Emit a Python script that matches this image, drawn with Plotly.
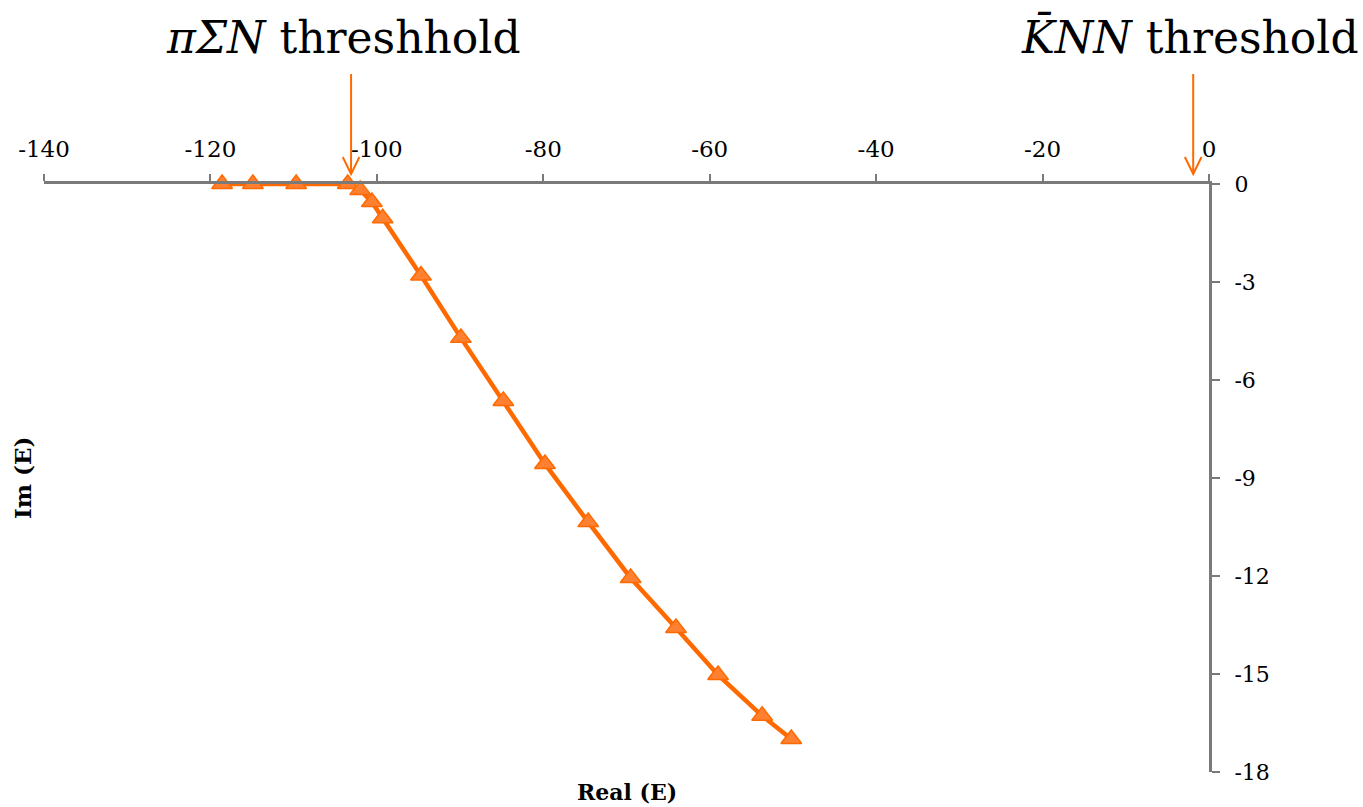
import plotly.graph_objects as go

real_e = [-118.6, -114.9, -109.7, -103.5, -102.0, -100.6, -99.3, -94.7, -89.9,
          -84.8, -79.8, -74.6, -69.5, -64.05, -59.0, -53.7, -50.2]
im_e = [0, 0, 0, 0, -0.18, -0.55, -1.05, -2.8, -4.71,
        -6.64, -8.57, -10.35, -12.06, -13.59, -15.03, -16.28, -16.99]

x_ticks = [-140, -120, -100, -80, -60, -40, -20, 0]
y_ticks = [0, -3, -6, -9, -12, -15, -18]

threshold_x = [-103.1, -1.9]
threshold_labels = ["<i>πΣN</i> threshhold", "<i>K̄NN</i> threshold"]
label_x = [-104.0, -2.3]

ORANGE = "#FF6A00"
AX = "#7a7a7a"
FONT = "Century Schoolbook, DejaVu Serif, serif"

fig = go.Figure()
fig.add_trace(go.Scatter(
    x=real_e, y=im_e, mode="lines+markers",
    line=dict(color=ORANGE, width=4.5),
    marker=dict(symbol="triangle-up", size=18, color="#FF8030",
                line=dict(color=ORANGE, width=1.5)),
    cliponaxis=False, showlegend=False))

shapes = []
annotations = []
for tx, lx, lab in zip(threshold_x, label_x, threshold_labels):
    shapes.append(dict(type="line", xref="x", yref="paper", x0=tx, x1=tx,
                       y0=(770 - 72) / 588, y1=(770 - 172) / 588,
                       line=dict(color=ORANGE, width=2)))
    shapes.append(dict(type="path", xref="x", yref="paper",
                       path=f"M {tx - 1.0},{(770 - 155) / 588} L {tx},{(770 - 172) / 588} L {tx + 1.0},{(770 - 155) / 588}",
                       line=dict(color=ORANGE, width=2)))
    annotations.append(dict(x=lx, xref="x", y=(770 - 35) / 588, yref="paper",
                            text=lab, showarrow=False, yanchor="middle", xanchor="center",
                            font=dict(family=FONT, size=44, color="black")))

annotations.append(dict(x=0.5, xref="paper", y=-20 / 588, yref="paper", text="<b>Real (E)</b>",
                        showarrow=False, yanchor="middle", xanchor="center",
                        font=dict(family=FONT, size=22, color="black")))
annotations.append(dict(x=-22 / 1165, xref="paper", y=0.5, yref="paper", text="<b>Im (E)</b>",
                        showarrow=False, textangle=-90, xanchor="center", yanchor="middle",
                        font=dict(family=FONT, size=23, color="black")))

fig.update_layout(
    width=1363, height=807,
    margin=dict(l=44, r=154, t=184, b=35),
    plot_bgcolor="white", paper_bgcolor="white",
    shapes=shapes, annotations=annotations,
    xaxis=dict(range=[-140, 0], side="top", tickvals=x_ticks,
               ticktext=[str(v) for v in x_ticks],
               showgrid=False, zeroline=False, showline=True, linecolor=AX, linewidth=3,
               ticks="outside", ticklen=7, tickwidth=2, tickcolor=AX,
               tickfont=dict(family=FONT, size=23, color="black"), ticklabelstandoff=8),
    yaxis=dict(range=[-18, 0], side="right", tickvals=y_ticks,
               ticktext=[str(v) for v in y_ticks],
               showgrid=False, zeroline=False, showline=True, linecolor=AX, linewidth=3,
               ticks="outside", ticklen=8, tickwidth=2, tickcolor=AX,
               tickfont=dict(family=FONT, size=22, color="black"), ticklabelstandoff=10),
)

fig.write_html("out.html", config={"displayModeBar": False},
               post_script="document.body.style.margin='0px';")
